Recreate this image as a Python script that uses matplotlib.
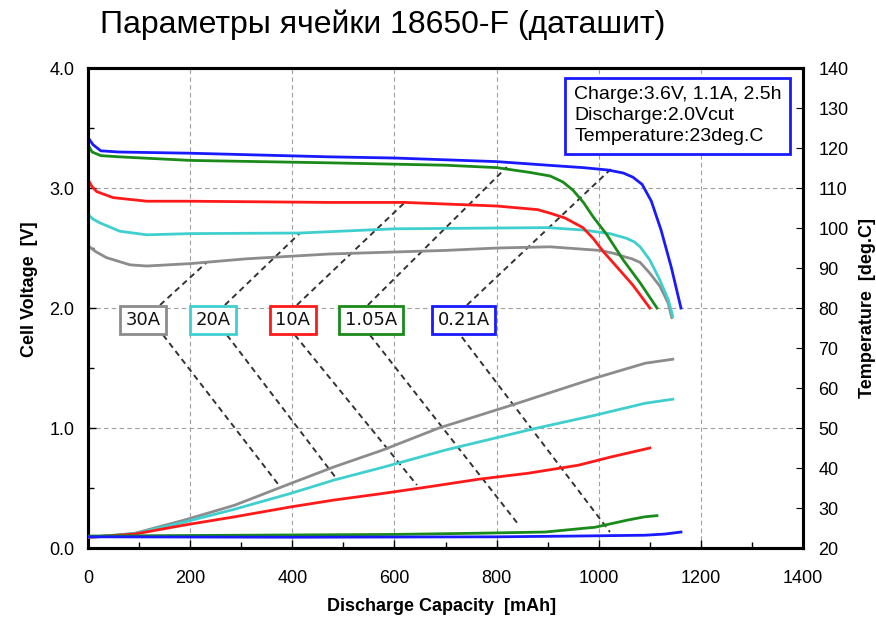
import matplotlib.pyplot as plt
from matplotlib.ticker import MultipleLocator

# ---- data ----
# discharge voltage curves: capacity [mAh] -> cell voltage [V]
cap_30 = [0, 15, 36, 82, 115, 200, 310, 472, 700, 800, 905, 1002, 1030, 1048, 1065, 1081, 1100, 1120, 1136, 1143]
v_30 = [2.52, 2.47, 2.42, 2.36, 2.35, 2.37, 2.41, 2.45, 2.48, 2.50, 2.51, 2.48, 2.455, 2.43, 2.41, 2.38, 2.29, 2.18, 2.04, 1.92]
cap_20 = [0, 10, 23, 62, 115, 200, 415, 600, 900, 969, 1022, 1055, 1070, 1081, 1100, 1120, 1136, 1145]
v_20 = [2.78, 2.74, 2.71, 2.64, 2.61, 2.62, 2.625, 2.66, 2.67, 2.65, 2.62, 2.58, 2.55, 2.51, 2.40, 2.23, 2.07, 1.93]
cap_10 = [0, 8, 17, 49, 115, 200, 472, 620, 800, 880, 905, 934, 969, 989, 1009, 1036, 1067, 1100]
v_10 = [3.07, 3.01, 2.97, 2.92, 2.89, 2.89, 2.88, 2.88, 2.85, 2.82, 2.79, 2.75, 2.67, 2.58, 2.47, 2.34, 2.19, 2.0]
cap_105 = [0, 8, 25, 60, 200, 470, 700, 800, 865, 905, 930, 950, 970, 989, 1016, 1048, 1081, 1114]
v_105 = [3.36, 3.30, 3.27, 3.26, 3.23, 3.21, 3.19, 3.17, 3.13, 3.10, 3.05, 2.98, 2.88, 2.76, 2.61, 2.40, 2.21, 2.0]
cap_021 = [0, 10, 25, 60, 200, 470, 600, 800, 900, 969, 1018, 1048, 1067, 1085, 1103, 1122, 1142, 1161]
v_021 = [3.42, 3.36, 3.31, 3.30, 3.29, 3.26, 3.25, 3.22, 3.19, 3.17, 3.15, 3.125, 3.09, 3.03, 2.89, 2.65, 2.34, 2.0]

# cell temperature curves: capacity [mAh] -> temperature [deg.C]
tcap_30 = [0, 14, 92, 189, 287, 398, 482, 575, 687, 829, 993, 1091, 1145]
t_30 = [22.7, 22.7, 23.7, 27.0, 30.7, 36.2, 40.3, 44.4, 50.0, 55.7, 62.5, 66.2, 67.2]
tcap_20 = [0, 92, 189, 287, 398, 482, 575, 700, 869, 993, 1091, 1145]
t_20 = [22.7, 23.6, 26.5, 29.7, 33.7, 37.0, 40.1, 44.5, 49.7, 53.2, 56.2, 57.2]
tcap_10 = [0, 92, 189, 287, 398, 482, 575, 667, 765, 862, 960, 1025, 1100]
t_10 = [22.7, 23.5, 25.75, 27.8, 30.3, 32.0, 33.6, 35.3, 37.2, 38.7, 40.7, 42.8, 45.0]
tcap_105 = [0, 300, 600, 765, 895, 993, 1057, 1090, 1114]
t_105 = [23.0, 23.2, 23.4, 23.7, 24.0, 25.2, 27.0, 27.8, 28.1]
tcap_021 = [0, 400, 800, 960, 1091, 1130, 1161]
t_021 = [22.8, 22.7, 22.8, 23.0, 23.2, 23.5, 24.0]

currents = ["30A", "20A", "10A", "1.05A", "0.21A"]
colors = ["#8c8c8c", "#40cfcf", "#ff1a1a", "#1a8a1a", "#1a1aff"]

# label boxes and their leader lines (capacity, voltage)
label_x = [108, 245, 401, 554, 736]
label_v = 1.9
up_from = [(141, 2.025), (268, 2.025), (409, 2.025), (548, 2.025), (742, 2.025)]
up_to = [(233, 2.383), (415, 2.625), (621, 2.883), (820, 3.175), (1026, 3.167)]
down_from = [(147, 1.775), (272, 1.775), (405, 1.775), (552, 1.775), (732, 1.758)]
down_to = [(372, 0.533), (484, 0.592), (644, 0.525), (842, 0.2), (1022, 0.133)]

info = "Charge:3.6V, 1.1A, 2.5h\nDischarge:2.0Vcut\nTemperature:23deg.C"
title = "Параметры ячейки 18650-F (даташит)"

arial = ["Liberation Sans", "DejaVu Sans"]

fig = plt.figure(figsize=(8.76, 6.2), dpi=100)
ax = fig.add_axes([0.1005, 0.1161, 0.8162, 0.7742])
ax2 = ax.twinx()

volt_curves = [(cap_30, v_30), (cap_20, v_20), (cap_10, v_10), (cap_105, v_105), (cap_021, v_021)]
temp_curves = [(tcap_30, t_30), (tcap_20, t_20), (tcap_10, t_10), (tcap_105, t_105), (tcap_021, t_021)]

for (x, y), c in zip(volt_curves, colors):
    ax.plot(x, y, color=c, lw=2, zorder=3, solid_joinstyle="round")
for (x, y), c in zip(temp_curves, colors):
    ax2.plot(x, y, color=c, lw=2, zorder=3, solid_joinstyle="round")

for a, b in zip(up_from, up_to):
    ax.plot([a[0], b[0]], [a[1], b[1]], color="#333333", lw=1.4, ls=(0, (3, 2.2)), zorder=2)
for a, b in zip(down_from, down_to):
    ax.plot([a[0], b[0]], [a[1], b[1]], color="#333333", lw=1.4, ls=(0, (3, 2.2)), zorder=2)

for lx, name, c in zip(label_x, currents, colors):
    ax.text(lx, label_v, name, ha="center", va="center", fontsize=13, color="#111111",
            fontweight="medium", zorder=5,
            bbox=dict(boxstyle="square,pad=0.3", fc="white", ec=c, lw=2))

ax2.text(0.68, 0.962, info, transform=ax.transAxes, ha="left", va="top", fontsize=14,
         family=arial, linespacing=1.3, zorder=6,
         bbox=dict(boxstyle="square,pad=0.45", fc="white", ec="#1a1aff", lw=2))

ax.set_xlim(0, 1400)
ax.set_ylim(0, 4.0)
ax2.set_ylim(20, 140)
ax.xaxis.set_major_locator(MultipleLocator(200))
ax.xaxis.set_minor_locator(MultipleLocator(100))
ax.yaxis.set_major_locator(MultipleLocator(1.0))
ax.yaxis.set_minor_locator(MultipleLocator(0.5))
ax2.yaxis.set_major_locator(MultipleLocator(10))
ax.yaxis.set_major_formatter(plt.FormatStrFormatter("%.1f"))

ax.grid(True, which="major", color="#a0a0a0", ls=(0, (4, 3)), lw=0.8)
ax.tick_params(which="both", direction="in", labelsize=13, top=False)
ax.tick_params(axis="y", pad=10)
ax.tick_params(axis="x", pad=16)
ax.tick_params(which="major", length=6, width=1)
ax.tick_params(which="minor", length=4, width=1)
ax2.tick_params(direction="in", labelsize=13, pad=11, length=5)
for a in (ax, ax2):
    for s in a.spines.values():
        s.set_linewidth(2.2)
for lab in ax.get_xticklabels() + ax.get_yticklabels() + ax2.get_yticklabels():
    lab.set_family(arial)

ax.set_xlabel("Discharge Capacity  [mAh]", fontsize=13, fontweight="bold", family=arial)
ax.set_ylabel("Cell Voltage  [V]", fontsize=13, fontweight="bold", family=arial)
ax2.set_ylabel("Temperature  [deg.C]", fontsize=13, fontweight="bold", family=arial)
ax.xaxis.set_label_coords(0.494, -0.104)
ax.yaxis.set_label_coords(-0.07, 0.54)
ax2.yaxis.set_label_coords(1.078, 0.5)

fig.text(383 / 876, 1 - 25 / 620, title, ha="center", va="center", fontsize=23, family=arial)

fig.savefig("out.png", dpi=100)
